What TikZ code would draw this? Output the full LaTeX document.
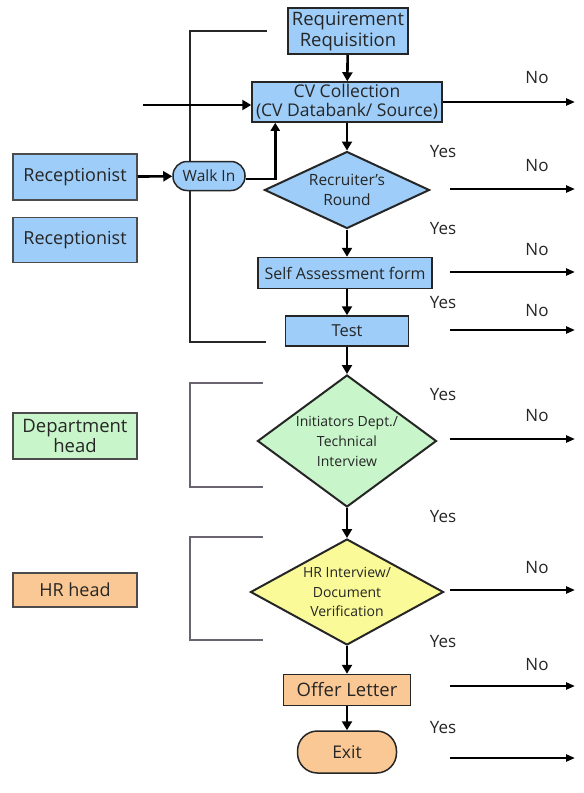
\documentclass[tikz,border=0pt]{standalone}
\usepackage{fontspec}
\setmainfont{Open Sans}
\usetikzlibrary{shapes.geometric,arrows.meta}
\definecolor{cblue}{HTML}{9DCDF8}
\definecolor{cgreen}{HTML}{C8F5CA}
\definecolor{cyellow}{HTML}{FAFA98}
\definecolor{cpeach}{HTML}{FAC894}
\definecolor{brk}{HTML}{6A6470}
\newcommand{\fs}[2]{\fontsize{#1}{#2}\selectfont}
\begin{document}
\begin{tikzpicture}[x=1pt,y=-1pt,
  box/.style={draw=black!85,line width=1.5pt,inner sep=0pt,align=center,text=black!85},
  lbox/.style={box,draw=black!70,minimum width=124pt},
  pill/.style={box,rounded corners=#1},
  dia/.style={box,diamond,line width=2pt},
  arr/.style={line width=2.6pt,-{Triangle[length=9pt,width=10pt]}},
  outarr/.style={line width=2.4pt,-{Triangle[length=9pt,width=7pt]}},
  lbl/.style={font=\fs{17}{19},inner sep=0pt,text=black!85},
  brkline/.style={line width=2pt,draw=brk}
]
\useasboundingbox[fill=white] (0,0) rectangle (584,793);

% brackets
\draw[brkline,draw=black!85] (267,31) -- (190,31) -- (190,342) -- (266,342);
\draw[brkline] (263,383) -- (190,383) -- (190,487) -- (263,487);
\draw[brkline] (263,537) -- (190,537) -- (190,640) -- (263,640);

% main column
\node[box,fill=cblue,minimum width=120pt,minimum height=46pt,font=\fs{18.5}{21}] (rr) at (348,31) {Requirement\\Requisition};
\node[box,fill=cblue,minimum width=190pt,minimum height=40pt,font=\fs{17.5}{19}] (cv) at (347,102) {CV Collection\\(CV Databank/ Source)};
\node[dia,fill=cblue,aspect=2.14,minimum width=165pt,minimum height=77pt,font=\fs{15.5}{20}] (rec) at (347,190) {Recruiter's\\Round};
\node[box,fill=cblue,minimum width=174pt,minimum height=31pt,font=\fs{16}{18}] (sa) at (345,273) {Self Assessment form};
\node[box,fill=cblue,minimum width=123pt,minimum height=30pt,font=\fs{16.5}{19}] (test) at (347,331) {Test};
\node[dia,fill=cgreen,aspect=1.36,minimum width=179pt,minimum height=132pt,font=\fs{14}{20}] (init) at (347,441) {Initiators Dept./\\Technical\\Interview};
\node[dia,fill=cyellow,aspect=1.82,minimum width=193pt,minimum height=106pt,font=\fs{14}{19.5}] (hri) at (347,592) {HR Interview/\\Document\\Verification};
\node[box,fill=cpeach,minimum width=127pt,minimum height=31pt,font=\fs{18.5}{20}] (offer) at (347,690) {Offer Letter};
\node[pill=20pt,fill=cpeach,minimum width=99pt,minimum height=42pt,font=\fs{17.5}{20}] (exit) at (347,752) {Exit};

% left column
\node[lbox,fill=cblue,minimum height=46pt,font=\fs{18}{20}] (r1) at (75,177) {Receptionist};
\node[lbox,fill=cblue,minimum height=45pt,font=\fs{18}{20}] (r2) at (75,240) {Receptionist};
\node[lbox,fill=cgreen,minimum height=46pt,font=\fs{18.5}{20.5}] (dh) at (75,436) {Department\\head};
\node[lbox,fill=cpeach,minimum height=34pt,font=\fs{18}{20}] (hh) at (75,590) {HR head};
\node[pill=14pt,fill=cblue,minimum width=72pt,minimum height=29pt,font=\fs{15.5}{17}] (walk) at (209,176) {Walk In};

% vertical flow
\draw[arr] (rr) -- (cv);
\draw[arr] (cv) -- (rec);
\draw[arr] (rec) -- (rec.south |- sa.north);
\draw[arr] (sa.south -| test.north) -- (test);
\draw[arr] (test) -- (init);
\draw[arr] (init) -- (hri);
\draw[arr] (hri) -- (offer);
\draw[arr] (offer) -- (exit);

% left inputs
\coordinate (inL) at (143,105);
\draw[arr] (inL) -- (inL -| cv.west);
\draw[arr] (r1) -- (walk);
\draw[line width=2.6pt,-{Triangle[length=8pt,width=9pt]}] ([yshift=-3pt]walk.east) -| ([xshift=24pt]cv.south west);

% outputs
\coordinate (e1) at (575,102);
\draw[outarr] (cv.east |- e1) -- (e1);
\foreach \y/\n in {189/2,272/3,330/4,439/5,590/6,686/7,758/8}{
  \coordinate (s\n) at (450,\y);
  \coordinate (e\n) at (575,\y);
  \draw[outarr] (s\n) -- (e\n);
}

% labels
\foreach \y/\n in {78/1,166/2,250/3,311/4,416/5,568/6,665/7}
  \node[lbl] (no\n) at (537,\y) {No};
\foreach \y/\n in {152/1,229/2,303/3,395/4,517/5,642/6,728/7}
  \node[lbl] (yes\n) at (443,\y) {Yes};
\end{tikzpicture}
\end{document}
